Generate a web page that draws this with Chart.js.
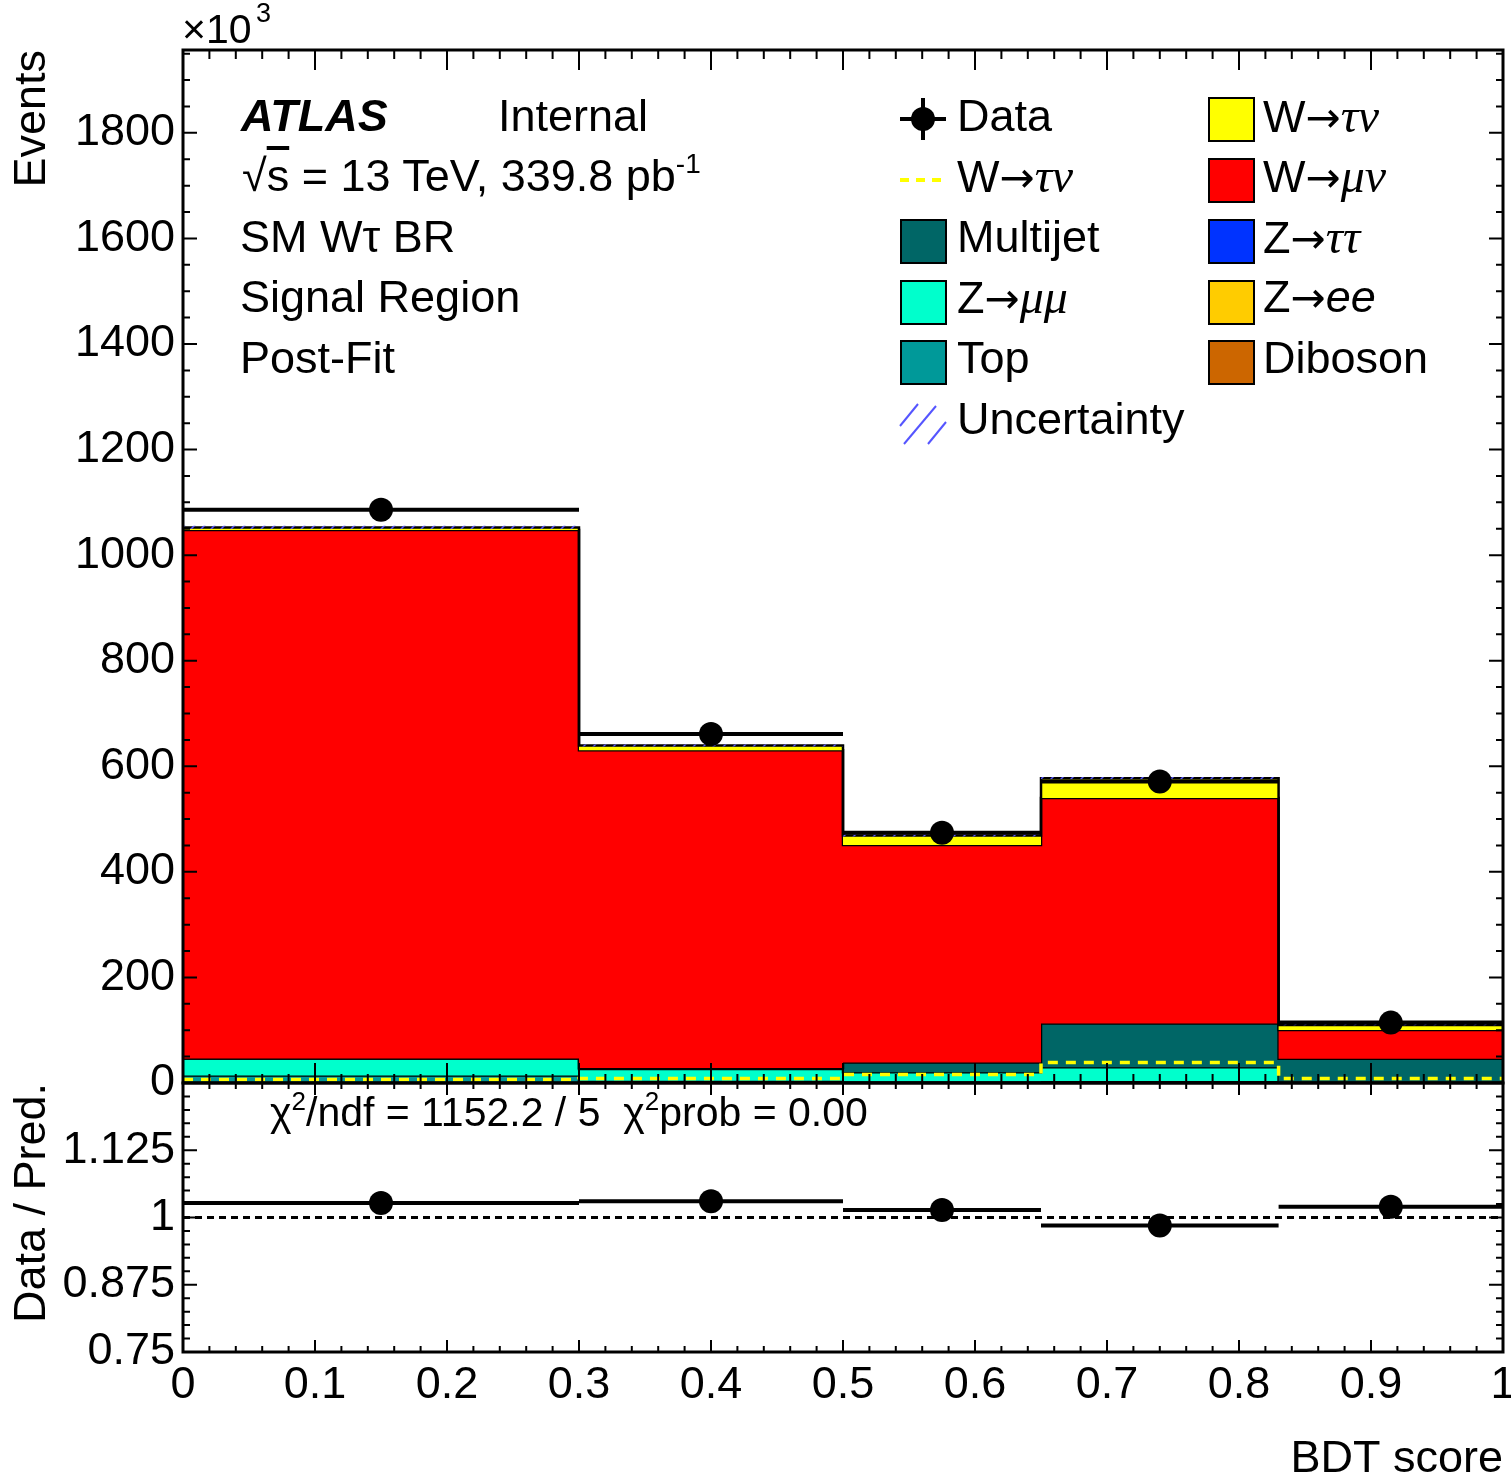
<!doctype html>
<html lang="en">
<head>
<meta charset="utf-8">
<title>BDT score - Signal Region Post-Fit</title>
<script src="https://cdn.jsdelivr.net/npm/chart.js@4.4.1/dist/chart.umd.min.js"></script>
<style>
  html, body { margin: 0; background: #fff; overflow: hidden; }
  #wrap { position: relative; width: 1511px; height: 1484px; overflow: hidden; background: #fff;
          font-family: "Liberation Sans", Arial, Helvetica, sans-serif; color: #000; }
  #mainBox { position: absolute; left: 0; top: 0; width: 1511px; height: 1110px; }
  #ratioBox { position: absolute; left: 0; top: 1043px; width: 1511px; height: 441px; }
  .t { position: absolute; font-size: 45px; line-height: 45px; white-space: nowrap; }
  .gr { font-family: "Liberation Serif", "Times New Roman", serif; font-style: italic; font-size: 48px; }
  .ar { font-family: "DejaVu Sans", sans-serif; font-size: 42px; }
  .sw { position: absolute; width: 43px; height: 41px; border: 2px solid #000; }
  svg { position: absolute; }
</style>
</head>
<body>
<div id="wrap">
  <div id="mainBox"><canvas id="mainChart"></canvas></div>
  <div id="ratioBox"><canvas id="ratioChart"></canvas></div>

  <!-- axis multiplier -->
  <div class="t" style="left:182px; top:9px; font-size:41px; line-height:41px;">×10</div>
  <div class="t" style="left:256px; top:0px; font-size:27px; line-height:27px;">3</div>

  <!-- labels -->
  <div class="t" style="left:241px; top:93px; font-weight:bold; font-style:italic;">ATLAS</div>
  <div class="t" style="left:498px; top:93px;">Internal</div>
  <div class="t" style="left:242px; top:153px;">√<span style="text-decoration:overline;">s</span> = 13 TeV, 339.8 pb<span style="font-size:28px; position:relative; top:-18px;">-1</span></div>
  <div class="t" style="left:240px; top:214px;">SM Wτ BR</div>
  <div class="t" style="left:240px; top:274px;">Signal Region</div>
  <div class="t" style="left:240px; top:335px;">Post-Fit</div>

  <!-- legend, column 1 -->
  <svg style="left:898px; top:96px;" width="50" height="46">
    <line x1="2" y1="23" x2="48" y2="23" stroke="#000" stroke-width="4"/>
    <line x1="25" y1="2" x2="25" y2="44" stroke="#000" stroke-width="4"/>
    <circle cx="25" cy="23" r="12" fill="#000"/>
  </svg>
  <div class="t" style="left:957px; top:93px;">Data</div>
  <svg style="left:898px; top:170px;" width="50" height="20">
    <line x1="2" y1="10" x2="48" y2="10" stroke="#ffff00" stroke-width="4" stroke-dasharray="9,7"/>
  </svg>
  <div class="t" style="left:957px; top:153px;">W<span class="ar">→</span><span class="gr">τν</span></div>
  <div class="sw" style="left:900px; top:219px; background:#006666;"></div>
  <div class="t" style="left:957px; top:214px;">Multijet</div>
  <div class="sw" style="left:900px; top:280px; background:#00ffcc;"></div>
  <div class="t" style="left:957px; top:274px;">Z<span class="ar">→</span><span class="gr">μμ</span></div>
  <div class="sw" style="left:900px; top:340px; background:#009999;"></div>
  <div class="t" style="left:957px; top:335px;">Top</div>
  <svg style="left:898px; top:400px;" width="50" height="46">
    <line x1="2" y1="26" x2="20" y2="4" stroke="#5555ff" stroke-width="2"/>
    <line x1="6" y1="44" x2="38" y2="6" stroke="#5555ff" stroke-width="2"/>
    <line x1="30" y1="44" x2="48" y2="22" stroke="#5555ff" stroke-width="2"/>
  </svg>
  <div class="t" style="left:957px; top:396px;">Uncertainty</div>

  <!-- legend, column 2 -->
  <div class="sw" style="left:1208px; top:97px; background:#ffff00;"></div>
  <div class="t" style="left:1263px; top:93px;">W<span class="ar">→</span><span class="gr">τν</span></div>
  <div class="sw" style="left:1208px; top:158px; background:#ff0000;"></div>
  <div class="t" style="left:1263px; top:153px;">W<span class="ar">→</span><span class="gr">μν</span></div>
  <div class="sw" style="left:1208px; top:219px; background:#0033ff;"></div>
  <div class="t" style="left:1263px; top:214px;">Z<span class="ar">→</span><span class="gr">ττ</span></div>
  <div class="sw" style="left:1208px; top:280px; background:#ffcc00;"></div>
  <div class="t" style="left:1263px; top:274px;">Z<span class="ar">→</span><i>ee</i></div>
  <div class="sw" style="left:1208px; top:340px; background:#cc6600;"></div>
  <div class="t" style="left:1263px; top:335px;">Diboson</div>

  <!-- fit result in ratio panel -->
  <div class="t" style="left:270px; top:1092px; font-size:41px; line-height:41px;">χ<span style="font-size:26px; position:relative; top:-16px;">2</span>/ndf = 1152.2 / 5&nbsp;&nbsp;χ<span style="font-size:26px; position:relative; top:-16px;">2</span>prob = 0.00</div>
</div>

<script>
// bins of the BDT score
var binEdges = [0, 0.3, 0.5, 0.65, 0.83, 1.0];

// stacked backgrounds, x10^3 events, bottom to top
var diboson  = [1.2, 0.6, 0.6, 1.0, 0.3];
var zee      = [0.4, 0.2, 0.2, 0.3, 0.1];
var ztautau  = [0.9, 0.6, 0.7, 1.2, 0.3];
var topq     = [11.7, 3.0, 2.0, 1.5, 0.8];
var zmumu    = [32, 22, 17, 26, 1.5];
var multijet = [0.3, 2.0, 18.5, 82.5, 42.8];
var wmunu    = [1001, 602, 412, 427.5, 54.7];
var wtaunu   = [5, 9, 18, 37.5, 9.6];

// W->tau nu drawn on its own as dashed line
var wtaunuLine = [6.5, 8.5, 16, 39, 8.5];
// total uncertainty (absolute, x10^3)
var uncert = [3, 2, 2, 2, 0.8];

var dataVals  = [1086, 661, 474, 571, 114.4];
var ratioVals = [1.027, 1.030, 1.014, 0.985, 1.020];

var yMax = 1957;
var FONT = "Liberation Sans";

var components = [
  {label: "Diboson",  vals: diboson,  color: "#cc6600"},
  {label: "Z->ee",    vals: zee,      color: "#ffcc00"},
  {label: "Z->tautau",vals: ztautau,  color: "#0033ff"},
  {label: "Top",      vals: topq,     color: "#009999"},
  {label: "Z->mumu",  vals: zmumu,    color: "#00ffcc"},
  {label: "Multijet", vals: multijet, color: "#006666"},
  {label: "W->munu",  vals: wmunu,    color: "#ff0000"},
  {label: "W->taunu", vals: wtaunu,   color: "#ffff00"}
];

// step points: value of bin i holds from edge i to edge i+1
function stepPoints(vals) {
  var pts = [];
  for (var i = 0; i < vals.length; i++) pts.push({x: binEdges[i], y: vals[i]});
  pts.push({x: binEdges[binEdges.length - 1], y: vals[vals.length - 1]});
  return pts;
}
function centers() {
  var c = [];
  for (var i = 0; i < binEdges.length - 1; i++) c.push((binEdges[i] + binEdges[i + 1]) / 2);
  return c;
}

// hatch for the uncertainty band
function hatch() {
  var c = document.createElement("canvas");
  c.width = 10; c.height = 10;
  var g = c.getContext("2d");
  g.strokeStyle = "#5555ff";
  g.lineWidth = 1.5;
  g.beginPath();
  g.moveTo(0, 10); g.lineTo(10, 0);
  g.moveTo(-5, 5); g.lineTo(5, -5);
  g.moveTo(5, 15); g.lineTo(15, 5);
  g.stroke();
  return g.createPattern(c, "repeat");
}

// frame + inward ticks on all four sides (ROOT look)
var frameTicks = {
  id: "frameTicks",
  afterDatasetsDraw: function(chart, args, o) {
    var ctx = chart.ctx, a = chart.chartArea;
    var xs = chart.scales.x, ys = chart.scales.y;
    ctx.save();
    ctx.strokeStyle = "#000";
    ctx.lineWidth = 2;
    ctx.beginPath();
    var n = Math.round((xs.max - xs.min) / o.xMinor);
    for (var i = 0; i <= n; i++) {
      var v = xs.min + i * o.xMinor;
      var r = v / o.xMajor;
      var len = Math.abs(r - Math.round(r)) < 1e-6 ? o.xMajLen : o.xMinLen;
      var px = xs.getPixelForValue(v);
      ctx.moveTo(px, a.bottom); ctx.lineTo(px, a.bottom - len);
      ctx.moveTo(px, a.top); ctx.lineTo(px, a.top + len);
    }
    n = Math.floor((ys.max - ys.min) / o.yMinor + 1e-6);
    for (var j = 0; j <= n; j++) {
      var w = ys.min + j * o.yMinor;
      var q = (w - o.yRef) / o.yMajor;
      var l2 = Math.abs(q - Math.round(q)) < 1e-6 ? o.yMajLen : o.yMinLen;
      var py = ys.getPixelForValue(w);
      ctx.moveTo(a.left, py); ctx.lineTo(a.left + l2, py);
      ctx.moveTo(a.right, py); ctx.lineTo(a.right - l2, py);
    }
    ctx.stroke();
    ctx.lineWidth = 3;
    ctx.strokeRect(a.left, a.top, a.right - a.left, a.bottom - a.top);
    ctx.restore();
  }
};

// ---------- main panel ----------
var mainSets = [];
var cum = [0, 0, 0, 0, 0];
components.forEach(function(c, k) {
  cum = cum.map(function(s, i) { return s + c.vals[i]; });
  mainSets.push({
    label: c.label,
    data: stepPoints(cum.slice()),
    stepped: true,
    borderColor: "#000",
    borderWidth: 2.5,
    backgroundColor: c.color,
    fill: k === 0 ? "origin" : "-1",
    pointRadius: 0,
    order: 100 - k
  });
});
var total = cum.slice();
var nStack = mainSets.length;
mainSets.push({
  label: "unc low",
  data: stepPoints(total.map(function(t, i) { return t - uncert[i]; })),
  stepped: true, borderWidth: 0, pointRadius: 0, fill: false, order: 6
});
mainSets.push({
  label: "Uncertainty",
  data: stepPoints(total.map(function(t, i) { return t + uncert[i]; })),
  stepped: true, borderWidth: 0, pointRadius: 0,
  fill: nStack, backgroundColor: hatch(), order: 5
});
mainSets.push({
  label: "W->taunu line",
  data: stepPoints(wtaunuLine),
  stepped: true, borderColor: "#ffff00", borderWidth: 3.5, borderDash: [10, 8],
  pointRadius: 0, fill: false, order: 4
});
dataVals.forEach(function(v, i) {
  mainSets.push({
    label: "data bin " + i,
    data: [{x: binEdges[i], y: v}, {x: binEdges[i + 1], y: v}],
    borderColor: "#000", borderWidth: 4, pointRadius: 0, fill: false, order: 2
  });
});
var cx = centers();
mainSets.push({
  label: "Data",
  type: "scatter",
  data: dataVals.map(function(v, i) { return {x: cx[i], y: v}; }),
  pointRadius: 12, pointBackgroundColor: "#000", pointBorderWidth: 0, order: 1
});

new Chart(document.getElementById("mainChart"), {
  type: "line",
  data: {datasets: mainSets},
  plugins: [frameTicks],
  options: {
    responsive: true,
    maintainAspectRatio: false,
    animation: false,
    layout: {autoPadding: false, padding: {top: 50, right: 8, bottom: 27, left: 0}},
    plugins: {
      legend: {display: false},
      tooltip: {enabled: false},
      frameTicks: {xMajor: 0.1, xMinor: 0.02, xMajLen: 20, xMinLen: 9,
                   yMajor: 200, yMinor: 50, yRef: 0, yMajLen: 14, yMinLen: 7}
    },
    scales: {
      x: {type: "linear", min: 0, max: 1, display: false},
      y: {
        min: 0, max: yMax,
        grid: {display: false, drawTicks: false},
        border: {display: false},
        ticks: {
          stepSize: 200, padding: 8, color: "#000",
          font: {family: FONT, size: 45},
          callback: function(v) { return v % 200 === 0 ? String(v) : ""; }
        },
        title: {display: true, text: "Events", align: "end", color: "#000",
                font: {family: FONT, size: 45, lineHeight: 1}, padding: {top: 10}},
        afterFit: function(s) { s.width = 183; s.paddingTop = 0; s.paddingBottom = 0; }
      }
    }
  }
});

// ---------- ratio panel ----------
var ratioSets = [];
ratioSets.push({
  label: "unity",
  data: [{x: 0, y: 1}, {x: 1, y: 1}],
  borderColor: "#000", borderWidth: 3, borderDash: [7, 5], pointRadius: 0, fill: false, order: 5
});
ratioVals.forEach(function(v, i) {
  ratioSets.push({
    label: "ratio bin " + i,
    data: [{x: binEdges[i], y: v}, {x: binEdges[i + 1], y: v}],
    borderColor: "#000", borderWidth: 4, pointRadius: 0, fill: false, order: 2
  });
});
ratioSets.push({
  label: "Data / Pred.",
  type: "scatter",
  data: ratioVals.map(function(v, i) { return {x: cx[i], y: v}; }),
  pointRadius: 12, pointBackgroundColor: "#000", pointBorderWidth: 0, order: 1
});

new Chart(document.getElementById("ratioChart"), {
  type: "line",
  data: {datasets: ratioSets},
  plugins: [frameTicks],
  options: {
    responsive: true,
    maintainAspectRatio: false,
    animation: false,
    layout: {autoPadding: false, padding: {top: 40, right: 8, bottom: 0, left: 0}},
    plugins: {
      legend: {display: false},
      tooltip: {enabled: false},
      frameTicks: {xMajor: 0.1, xMinor: 0.02, xMajLen: 12, xMinLen: 6,
                   yMajor: 0.125, yMinor: 0.025, yRef: 0.75, yMajLen: 14, yMinLen: 7}
    },
    scales: {
      x: {
        type: "linear", min: 0, max: 1,
        grid: {display: false, drawTicks: false},
        border: {display: false},
        ticks: {
          stepSize: 0.1, padding: 7, color: "#000", maxRotation: 0, autoSkip: false,
          font: {family: FONT, size: 45},
          callback: function(v) { return String(+v.toFixed(1)); }
        },
        title: {display: true, text: "BDT score", align: "end", color: "#000",
                font: {family: FONT, size: 45, lineHeight: 1}, padding: {bottom: 2}},
        afterFit: function(s) { s.height = 132; s.paddingLeft = 0; s.paddingRight = 0; }
      },
      y: {
        min: 0.75, max: 1.25,
        grid: {display: false, drawTicks: false},
        border: {display: false},
        ticks: {
          stepSize: 0.125, padding: 8, color: "#000",
          font: {family: FONT, size: 45},
          callback: function(v) { return v > 1.2 ? "" : String(+v.toFixed(3)); }
        },
        title: {display: true, text: "Data / Pred.", align: "end", color: "#000",
                font: {family: FONT, size: 45, lineHeight: 1}, padding: {top: 10}},
        afterFit: function(s) { s.width = 183; s.paddingTop = 0; s.paddingBottom = 0; }
      }
    }
  }
});
</script>
</body>
</html>
